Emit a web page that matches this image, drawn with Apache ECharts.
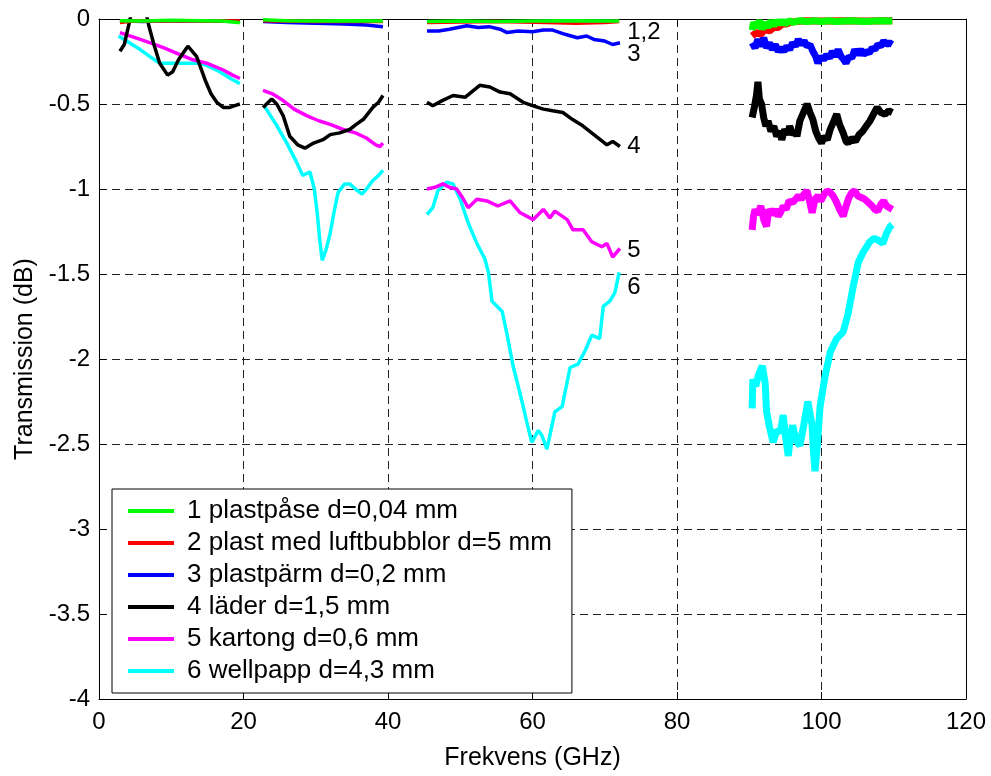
<!DOCTYPE html>
<html>
<head>
<meta charset="utf-8">
<script src="https://cdn.jsdelivr.net/npm/echarts@6/dist/echarts.min.js"></script>
<style>
html,body{margin:0;padding:0;background:#fff;}
#chart{width:991px;height:776px;}
</style>
</head>
<body>
<div id="chart"></div>
<script>
// ---------- data (frequency GHz, transmission dB) ----------
var names = [
  '1 plastpåse d=0,04 mm',
  '2 plast med luftbubblor d=5 mm',
  '3 plastpärm d=0,2 mm',
  '4 läder d=1,5 mm',
  '5 kartong d=0,6 mm',
  '6 wellpapp d=4,3 mm'
];
var colors = ['#00ff00', '#ff0000', '#0000ff', '#000000', '#ff00ff', '#00ffff'];

// 1 plastpåse
var s1b1 = [[2.9,-0.01],[6,-0.012],[10,-0.008],[14,-0.01],[17,-0.012],[19.3,-0.02],[19.5,-0.025]];
var s1b2 = [[22.7,-0.005],[26,-0.01],[30,-0.012],[34,-0.01],[39.3,-0.012]];
var s1b3 = [[45.4,-0.015],[50,-0.012],[55,-0.014],[60,-0.012],[65,-0.01],[72,-0.012]];
var s1b4 = [[90.4,-0.065],[90.6,-0.02],[91.0,-0.05],[91.4,-0.01],[91.8,-0.06],[92.2,-0.02],[92.6,-0.05],[93.0,-0.01],[93.4,-0.04],[93.8,-0.01],[94.2,-0.03],[94.6,-0.01],[95.0,-0.03],[95.5,-0.01],[96.0,-0.02],[97,-0.01],[98,-0.015],[99,-0.01],[100,-0.015],[101,-0.01],[102,-0.015],[104,-0.01],[106,-0.015],[108,-0.01],[109.8,-0.012]];

// 2 plast med luftbubblor
var s2b1 = [[2.9,-0.02],[5,-0.01],[10,-0.012],[15,-0.01],[19.5,-0.012]];
var s2b2 = [[22.7,-0.01],[30,-0.015],[39.3,-0.015]];
var s2b3 = [[45.4,-0.02],[55,-0.015],[62,-0.02],[66,-0.025],[70,-0.02],[72,-0.015]];
var s2b4 = [[90.4,-0.10],[91.0,-0.08],[91.6,-0.09],[92.2,-0.06],[92.8,-0.07],[93.4,-0.05],[94.0,-0.05],[94.6,-0.03],[95.2,-0.03],[95.6,-0.02],[96.5,-0.015],[98,-0.01],[100,-0.012],[103,-0.01],[106,-0.012],[109.8,-0.01]];

// 3 plastpärm
var s3b1 = [[2.9,-0.01],[6,-0.015],[10,-0.01],[15,-0.012],[19.5,-0.015]];
var s3b2 = [[22.7,-0.015],[26,-0.02],[30,-0.025],[34,-0.03],[37,-0.035],[39.3,-0.045]];
var s3b3 = [[45.4,-0.07],[47,-0.07],[48.5,-0.06],[50.9,-0.04],[52.5,-0.05],[54,-0.045],[55.5,-0.06],[56.5,-0.08],[58,-0.07],[60,-0.075],[61.5,-0.065],[62.8,-0.065],[64.5,-0.09],[66.2,-0.11],[67.5,-0.10],[68.5,-0.12],[70,-0.13],[71.1,-0.15],[72.1,-0.14]];
var s3b4 = [[90.4,-0.14],[90.8,-0.17],[91.2,-0.12],[91.6,-0.16],[92.0,-0.11],[92.4,-0.17],[92.8,-0.14],[93.2,-0.18],[93.6,-0.15],[94.0,-0.19],[94.4,-0.17],[94.8,-0.19],[95.2,-0.16],[95.6,-0.18],[96.0,-0.14],[96.4,-0.16],[96.8,-0.12],[97.2,-0.15],[97.6,-0.13],[98.0,-0.16],[98.4,-0.15],[98.8,-0.19],[99.2,-0.22],[99.5,-0.26],[99.9,-0.22],[100.3,-0.24],[100.7,-0.21],[101.1,-0.23],[101.5,-0.19],[101.9,-0.22],[102.3,-0.18],[102.7,-0.22],[103.1,-0.24],[103.4,-0.26],[103.8,-0.22],[104.2,-0.23],[104.6,-0.18],[105.0,-0.21],[105.4,-0.18],[105.8,-0.21],[106.2,-0.19],[106.6,-0.20],[107.0,-0.17],[107.4,-0.18],[107.8,-0.15],[108.2,-0.16],[108.6,-0.13],[109.0,-0.15],[109.4,-0.14],[109.8,-0.15]];

// 4 läder
var s4b1 = [[2.9,-0.19],[3.5,-0.15],[4.2,-0.02],[4.6,0.06],[6.4,0.06],[6.9,-0.04],[7.6,-0.15],[8.4,-0.26],[9.5,-0.33],[10.2,-0.31],[11.0,-0.24],[12.3,-0.16],[13.5,-0.22],[14.7,-0.36],[15.5,-0.44],[16.3,-0.49],[17.2,-0.52],[18.1,-0.52],[18.8,-0.51],[19.5,-0.50]];
var s4b2 = [[22.7,-0.52],[23.9,-0.47],[24.6,-0.50],[25.5,-0.57],[26.4,-0.69],[27.5,-0.74],[28.5,-0.76],[29.7,-0.73],[31,-0.71],[32,-0.68],[33.3,-0.67],[34.7,-0.65],[35.6,-0.62],[36.6,-0.59],[37.9,-0.52],[38.7,-0.49],[39.3,-0.45]];
var s4b3 = [[45.4,-0.49],[46.2,-0.51],[47.5,-0.48],[49,-0.45],[50.7,-0.46],[52.7,-0.39],[54.1,-0.40],[55.5,-0.43],[56.9,-0.44],[58.7,-0.49],[60,-0.51],[61.5,-0.53],[62.8,-0.54],[64.2,-0.55],[65.5,-0.59],[67,-0.63],[68.5,-0.68],[70.3,-0.74],[71.1,-0.72],[72.1,-0.75]];
var s4b4 = [[90.4,-0.58],[90.7,-0.52],[91.0,-0.45],[91.2,-0.37],[91.4,-0.47],[91.7,-0.50],[92.0,-0.58],[92.3,-0.63],[92.6,-0.60],[93.0,-0.66],[93.4,-0.63],[93.8,-0.69],[94.2,-0.66],[94.5,-0.71],[94.9,-0.65],[95.3,-0.68],[95.6,-0.63],[96.0,-0.68],[96.4,-0.66],[96.6,-0.69],[97.0,-0.60],[97.5,-0.55],[98.0,-0.50],[98.4,-0.55],[98.8,-0.59],[99.2,-0.66],[99.6,-0.70],[100.0,-0.73],[100.4,-0.69],[100.8,-0.71],[101.2,-0.65],[101.7,-0.60],[102.1,-0.56],[102.5,-0.62],[103.0,-0.67],[103.4,-0.72],[103.7,-0.73],[104.2,-0.70],[104.7,-0.72],[105.2,-0.68],[105.7,-0.66],[106.2,-0.63],[106.7,-0.60],[107.2,-0.56],[107.7,-0.52],[108.2,-0.55],[108.8,-0.56],[109.3,-0.54],[109.8,-0.55]];

// 5 kartong
var s5b1 = [[2.9,-0.08],[5,-0.11],[7.1,-0.14],[9,-0.17],[11.2,-0.21],[13,-0.24],[14.9,-0.26],[17.2,-0.30],[18.5,-0.33],[19.5,-0.35]];
var s5b2 = [[22.7,-0.42],[24,-0.44],[25.5,-0.48],[27,-0.53],[28.8,-0.57],[30.5,-0.60],[32,-0.62],[33.8,-0.65],[35.5,-0.67],[37,-0.70],[38.3,-0.74],[38.9,-0.75],[39.3,-0.73]];
var s5b3 = [[45.4,-1.00],[46.5,-0.99],[47.6,-0.97],[48.5,-0.99],[49.5,-1.00],[50.3,-1.05],[51.1,-1.11],[52.3,-1.06],[53.7,-1.07],[55.2,-1.10],[56.9,-1.07],[58.3,-1.14],[60.1,-1.18],[61.5,-1.12],[62.4,-1.17],[63.1,-1.13],[64.8,-1.18],[65.6,-1.24],[67,-1.24],[68.2,-1.31],[69.6,-1.34],[70.3,-1.32],[71.1,-1.40],[72.1,-1.35]];
var s5b4 = [[90.4,-1.24],[90.6,-1.16],[90.8,-1.12],[91.2,-1.15],[91.6,-1.10],[92.0,-1.18],[92.4,-1.22],[92.7,-1.12],[93.2,-1.15],[93.6,-1.12],[94.0,-1.16],[94.3,-1.14],[94.7,-1.10],[95.1,-1.12],[95.5,-1.07],[96.0,-1.08],[96.4,-1.06],[96.8,-1.04],[97.2,-1.06],[97.6,-1.03],[98.0,-1.01],[98.4,-1.08],[98.7,-1.14],[99.1,-1.06],[99.5,-1.04],[99.9,-1.07],[100.4,-1.03],[100.8,-1.01],[101.2,-1.02],[101.6,-1.04],[102.0,-1.07],[102.5,-1.12],[103.0,-1.16],[103.4,-1.10],[103.8,-1.05],[104.2,-1.02],[104.6,-1.01],[105.0,-1.04],[105.5,-1.05],[106.0,-1.06],[106.5,-1.08],[107.0,-1.10],[107.4,-1.12],[107.8,-1.13],[108.2,-1.09],[108.6,-1.07],[109.0,-1.10],[109.4,-1.11],[109.8,-1.12]];

// 6 wellpapp
var s6b1 = [[2.7,-0.10],[4.2,-0.14],[5.7,-0.18],[7,-0.22],[8.4,-0.26],[10,-0.26],[12,-0.26],[14,-0.26],[15.3,-0.28],[16.7,-0.31],[18.2,-0.35],[19.5,-0.38]];
var s6b2 = [[23,-0.52],[24.5,-0.62],[26,-0.73],[27.2,-0.83],[28.2,-0.92],[29.2,-0.90],[29.8,-1.00],[30.2,-1.14],[30.6,-1.32],[30.9,-1.42],[31.4,-1.36],[32,-1.26],[32.6,-1.12],[33.1,-1.02],[34,-0.97],[34.7,-0.97],[35.5,-1.00],[36.4,-1.03],[37.2,-0.99],[37.9,-0.95],[38.7,-0.92],[39.3,-0.89]];
var s6b3 = [[45.4,-1.15],[46.2,-1.11],[46.9,-1.01],[48.1,-0.96],[49,-0.97],[50,-1.06],[51.1,-1.20],[52.3,-1.32],[53.4,-1.41],[53.9,-1.49],[54.4,-1.66],[55.8,-1.72],[56.5,-1.86],[57.3,-2.04],[57.9,-2.14],[58.6,-2.26],[59.2,-2.37],[59.9,-2.49],[60.8,-2.42],[61.3,-2.45],[62,-2.53],[63.1,-2.31],[64.1,-2.28],[65.2,-2.05],[66.3,-2.03],[67.3,-1.95],[68.2,-1.86],[69.3,-1.88],[69.8,-1.69],[70.7,-1.66],[71.4,-1.61],[72,-1.49]];
var s6b4 = [[90.4,-2.29],[90.5,-2.12],[90.9,-2.16],[91.3,-2.09],[91.8,-2.04],[92.2,-2.14],[92.4,-2.31],[92.8,-2.40],[93.3,-2.49],[93.8,-2.42],[94.3,-2.43],[94.7,-2.33],[95.0,-2.45],[95.4,-2.57],[95.7,-2.46],[96.0,-2.39],[96.5,-2.48],[97.0,-2.51],[97.5,-2.40],[98.1,-2.25],[98.4,-2.32],[98.7,-2.39],[98.9,-2.55],[99.1,-2.66],[99.4,-2.52],[99.8,-2.28],[100.5,-2.10],[101.2,-1.96],[102.1,-1.88],[103.0,-1.84],[103.7,-1.73],[104.4,-1.57],[105.1,-1.43],[105.8,-1.37],[106.7,-1.31],[107.3,-1.29],[107.8,-1.30],[108.5,-1.32],[109.0,-1.26],[109.5,-1.22],[109.8,-1.21]];

var bands = [
  [s1b1, s1b2, s1b3, s1b4],
  [s2b1, s2b2, s2b3, s2b4],
  [s3b1, s3b2, s3b3, s3b4],
  [s4b1, s4b2, s4b3, s4b4],
  [s5b1, s5b2, s5b3, s5b4],
  [s6b1, s6b2, s6b3, s6b4]
];

// curve annotations
var annoTexts = ['1,2', '3', '4', '5', '6'];
var annoPos = [[73.1,-0.076],[73.1,-0.21],[73.1,-0.75],[73.1,-1.36],[73.1,-1.58]];

var xTicks = {min: 0, max: 120, interval: 20};
var yTicks = {min: -4, max: 0, interval: 0.5};

// ---------- chart ----------
var FONT = 'Liberation Sans, Arial, sans-serif';
var chart = echarts.init(document.getElementById('chart'), null, {renderer: 'canvas'});

var series = [];
// draw order: 6..1 so lines 1-3 end up on top
for (var k = bands.length - 1; k >= 0; k--) {
  for (var b = 0; b < bands[k].length; b++) {
    series.push({
      name: names[k],
      type: 'line',
      data: bands[k][b],
      showSymbol: false,
      symbol: 'none',
      smooth: false,
      clip: true,
      lineStyle: {color: colors[k], width: b === 3 ? 7 : 3.5},
      itemStyle: {color: colors[k]},
      emphasis: {disabled: true},
      animation: false,
      z: 2 + (bands.length - k)
    });
  }
}
series.push({
  type: 'scatter',
  data: annoPos.map(function (p, i) { return {value: p, label: {formatter: annoTexts[i]}}; }),
  symbolSize: 0,
  silent: true,
  animation: false,
  label: {show: true, position: 'right', distance: 0, color: '#000000', opacity: 1, fontSize: 24, fontFamily: FONT},
  z: 20
});

chart.setOption({
  backgroundColor: '#fff',
  animation: false,
  grid: {left: 99, right: 25, top: 19, bottom: 75, containLabel: false},
  legend: {
    data: names,
    orient: 'vertical',
    left: 112,
    top: 489,
    padding: [9, 20, 9, 16],
    backgroundColor: '#fff',
    borderColor: '#000',
    borderWidth: 1,
    borderRadius: 0,
    icon: 'rect',
    itemWidth: 46,
    itemHeight: 4,
    itemGap: 6,
    selectedMode: false,
    textStyle: {fontSize: 26, fontFamily: FONT, color: '#000', lineHeight: 26, padding: [0, 0, 0, 8]}
  },
  xAxis: [{
    type: 'value', min: xTicks.min, max: xTicks.max, interval: xTicks.interval,
    position: 'bottom',
    name: 'Frekvens (GHz)', nameLocation: 'middle', nameGap: 47,
    nameTextStyle: {fontSize: 25, fontFamily: FONT, color: '#000'},
    axisLine: {show: true, onZero: false, lineStyle: {color: '#000', width: 1}},
    axisTick: {show: true, inside: true, length: 7, lineStyle: {color: '#000'}},
    axisLabel: {fontSize: 24, fontFamily: FONT, color: '#000', margin: 11},
    splitLine: {show: true, lineStyle: {color: '#222', width: 1, type: [8, 5]}}
  }, {
    type: 'value', min: xTicks.min, max: xTicks.max, interval: xTicks.interval,
    position: 'top',
    axisLine: {show: true, onZero: false, lineStyle: {color: '#000', width: 1}},
    axisTick: {show: true, inside: true, length: 7, lineStyle: {color: '#000'}},
    axisLabel: {show: false},
    splitLine: {show: false}
  }],
  yAxis: [{
    type: 'value', min: yTicks.min, max: yTicks.max, interval: yTicks.interval,
    position: 'left',
    name: 'Transmission (dB)', nameLocation: 'middle', nameGap: 61,
    nameTextStyle: {fontSize: 25, fontFamily: FONT, color: '#000'},
    axisLine: {show: true, onZero: false, lineStyle: {color: '#000', width: 1}},
    axisTick: {show: true, inside: true, length: 7, lineStyle: {color: '#000'}},
    axisLabel: {fontSize: 24, fontFamily: FONT, color: '#000', margin: 9},
    splitLine: {show: true, lineStyle: {color: '#222', width: 1, type: [8, 5]}}
  }, {
    type: 'value', min: yTicks.min, max: yTicks.max, interval: yTicks.interval,
    position: 'right',
    axisLine: {show: true, onZero: false, lineStyle: {color: '#000', width: 1}},
    axisTick: {show: true, inside: true, length: 7, lineStyle: {color: '#000'}},
    axisLabel: {show: false},
    splitLine: {show: false}
  }],
  series: series
});
</script>
</body>
</html>
